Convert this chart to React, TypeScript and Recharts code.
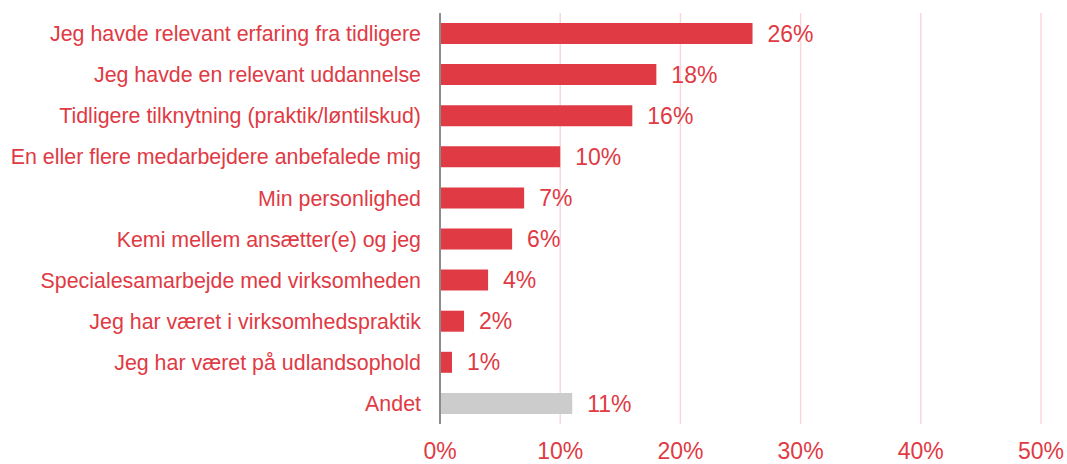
import React from "react";
import { BarChart, Bar, XAxis, YAxis, CartesianGrid, LabelList, Cell } from "recharts";

const categories = [
  "Jeg havde relevant erfaring fra tidligere",
  "Jeg havde en relevant uddannelse",
  "Tidligere tilknytning (praktik/løntilskud)",
  "En eller flere medarbejdere anbefalede mig",
  "Min personlighed",
  "Kemi mellem ansætter(e) og jeg",
  "Specialesamarbejde med virksomheden",
  "Jeg har været i virksomhedspraktik",
  "Jeg har været på udlandsophold",
  "Andet",
];
const values = [26, 18, 16, 10, 7, 6, 4, 2, 1, 11];
const xTicks = [0, 10, 20, 30, 40, 50];

const RED = "#e03a44";
const GREY = "#cccccc";

const data = categories.map((name, i) => ({ name, value: values[i] }));

export default function App() {
  return (
    <div style={{ position: "absolute", left: 0, top: 0, background: "#fff" }}>
      <BarChart
        width={1067}
        height={464}
        data={data}
        layout="vertical"
        margin={{ top: 13, right: 26, bottom: 0, left: 0 }}
        barCategoryGap={0}
      >
        <CartesianGrid horizontal={false} stroke="#f8d7da" strokeWidth={1.5} />
        <XAxis
          type="number"
          domain={[0, 50]}
          ticks={xTicks}
          tickFormatter={(v: number) => `${v}%`}
          axisLine={false}
          tickLine={false}
          tickSize={0}
          tickMargin={19}
          height={40}
          tick={{ fill: RED, fontSize: 23, fontFamily: "Liberation Sans, Arial, sans-serif" }}
        />
        <YAxis
          type="category"
          dataKey="name"
          width={440}
          tickLine={false}
          tickSize={0}
          tickMargin={19}
          axisLine={{ stroke: "#8c8c8c", strokeWidth: 2 }}
          interval={0}
          tick={{ fill: RED, fontSize: 21.4, fontFamily: "Liberation Sans, Arial, sans-serif" }}
        />
        <Bar dataKey="value" barSize={21} isAnimationActive={false}>
          {data.map((d, i) => (
            <Cell key={i} fill={d.name === "Andet" ? GREY : RED} />
          ))}
          <LabelList
            dataKey="value"
            position="right"
            offset={15}
            formatter={(v: number) => `${v}%`}
            fill={RED}
            fontSize={23}
            fontFamily="Liberation Sans, Arial, sans-serif"
          />
        </Bar>
      </BarChart>
    </div>
  );
}
